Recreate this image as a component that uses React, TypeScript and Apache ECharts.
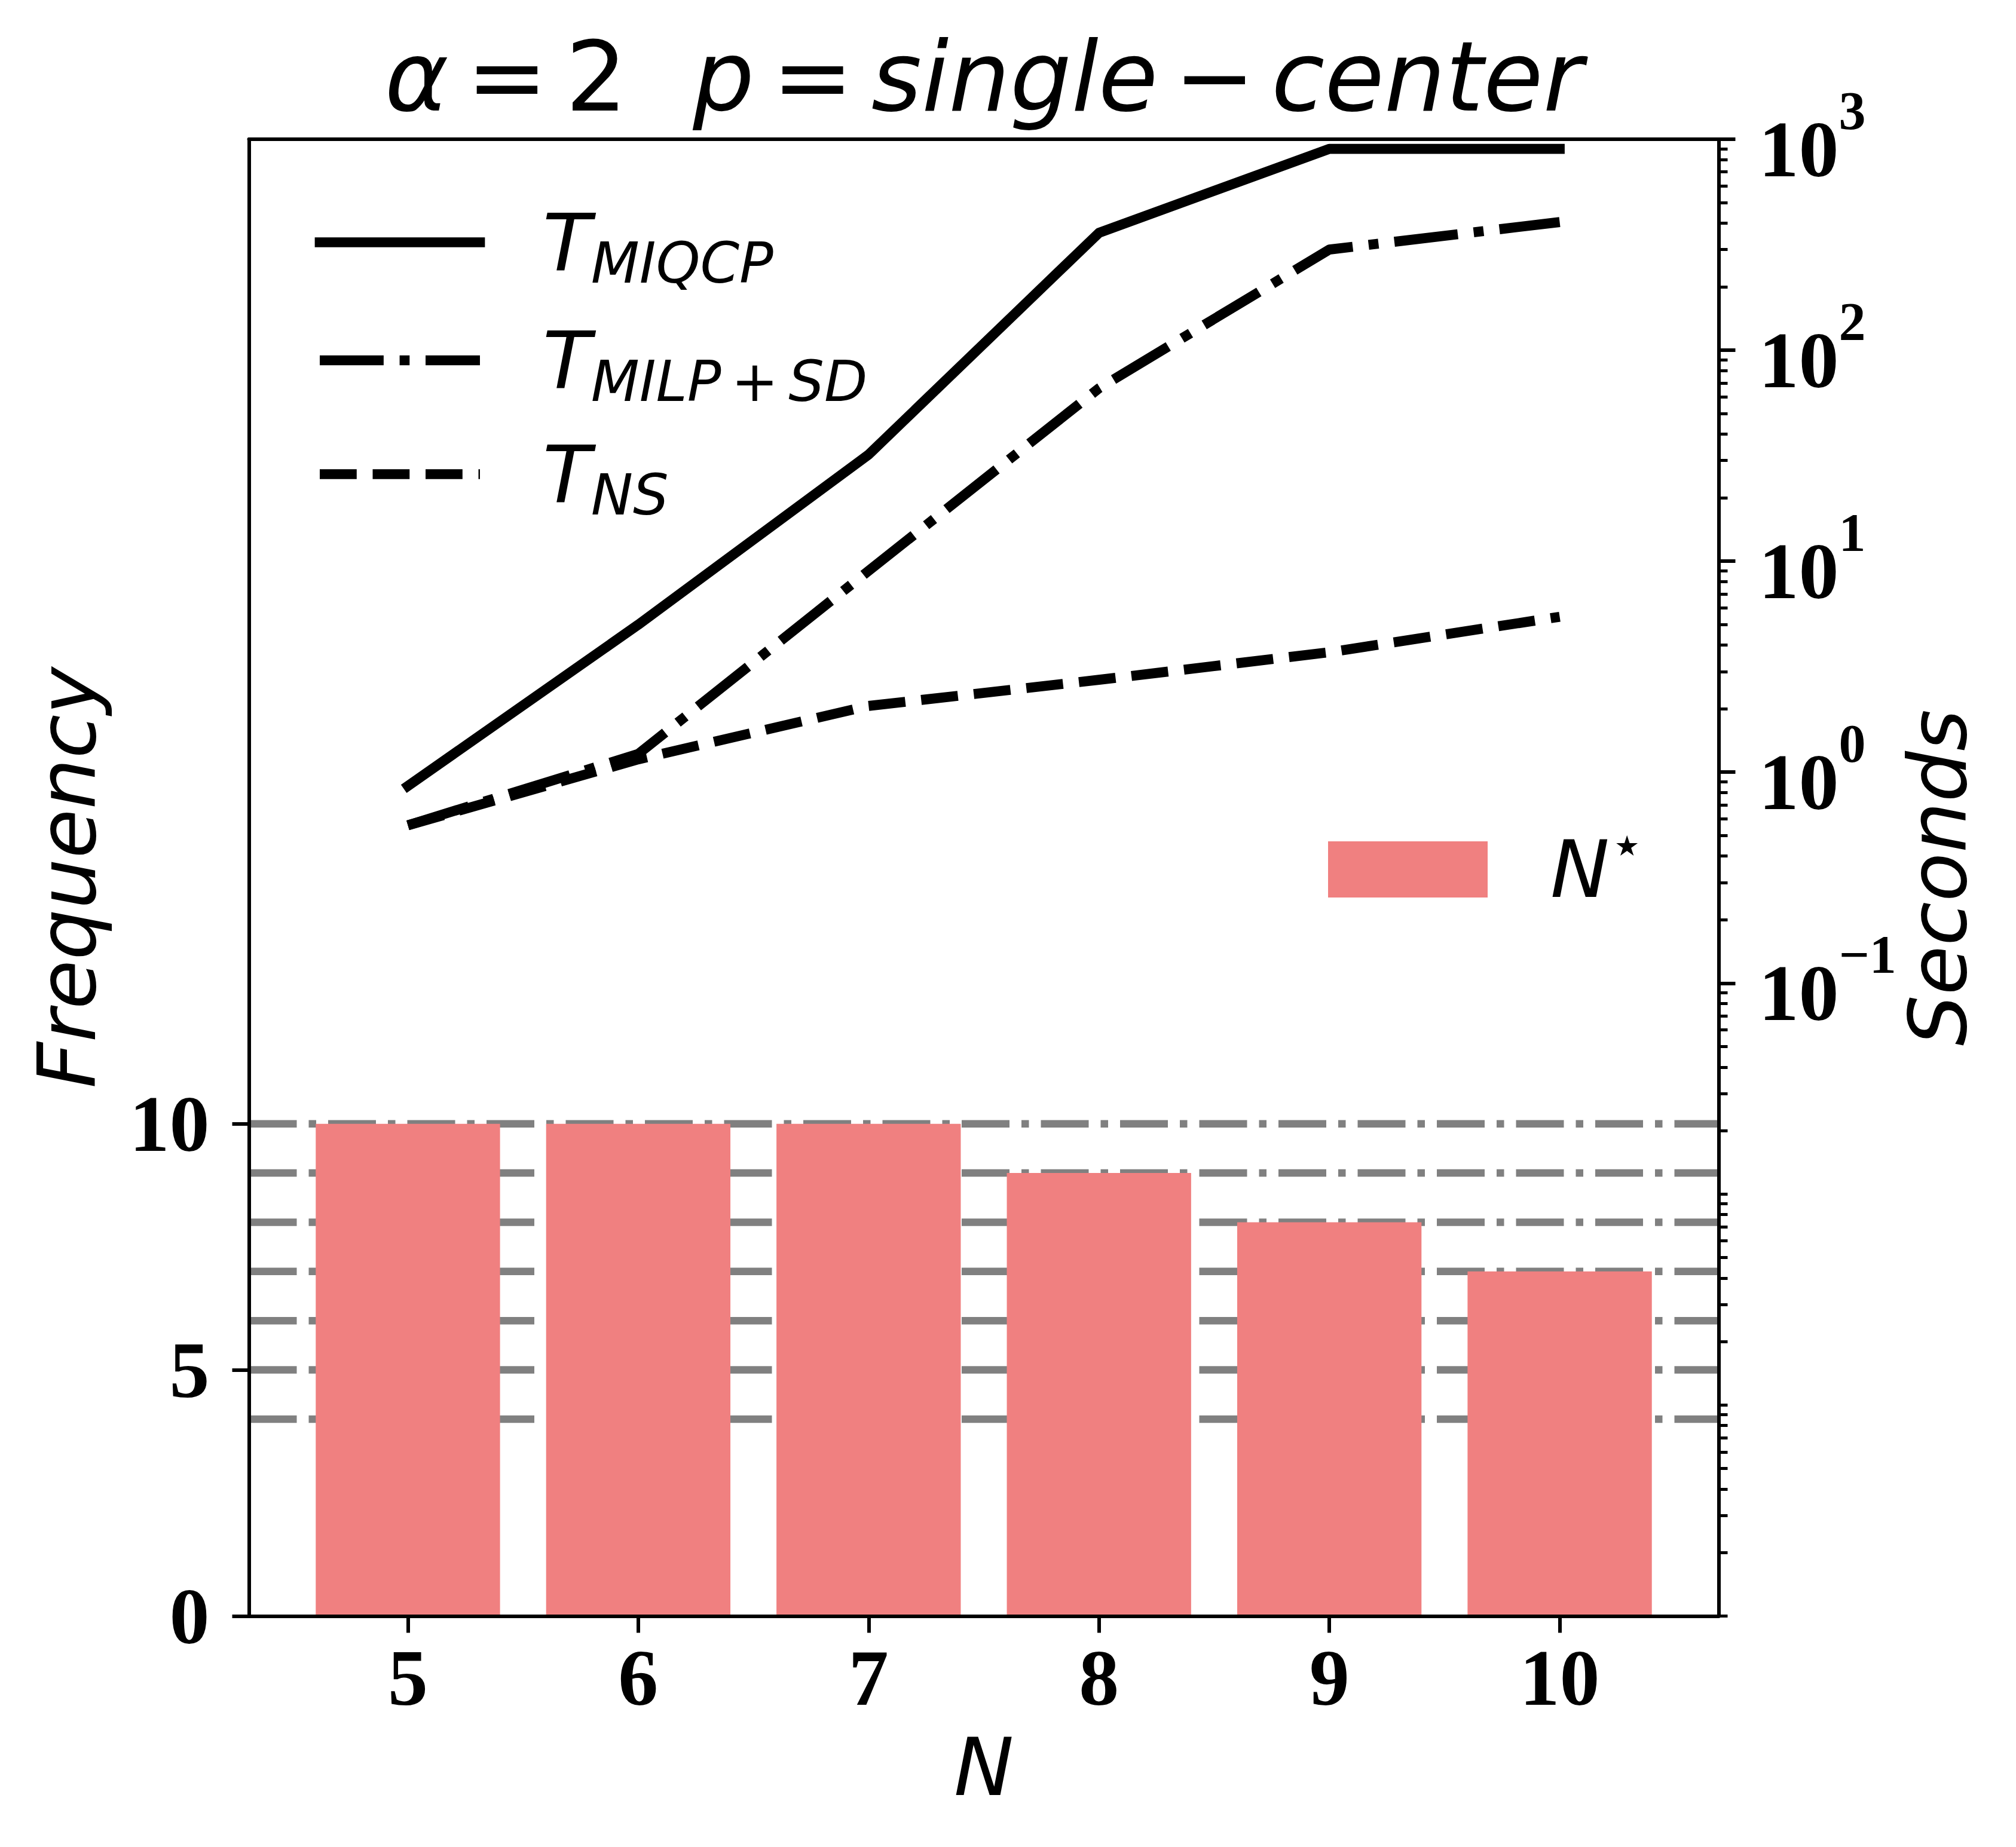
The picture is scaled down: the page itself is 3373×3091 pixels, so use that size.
import React, { useEffect, useRef } from "react";
import * as echarts from "echarts";

// ---------------- data ----------------
const N = [5, 6, 7, 8, 9, 10];
const nStarFrequency = [10, 10, 10, 9, 8, 7];
const tMIQCP = [0.86, 5.0, 32, 360, 900, 900];
const tMILPSD = [0.56, 1.22, 9.0, 66, 300, 405];
const tNS = [0.56, 1.15, 2.06, 2.74, 3.7, 5.45];
const refLevels = [4, 5, 6, 7, 8, 9, 10];
const freqTickValues = [0, 5, 10];
const freqRange = [0, 30];
const secondsRange = [1e-4, 1e3];
const secondsMajorExponents = [-1, 0, 1, 2, 3];
const minorMantissas = [1, 2, 3, 4, 5, 6, 7, 8, 9];

const NAME_MIQCP = "T_MIQCP";
const NAME_MILP = "T_MILP+SD";
const NAME_NS = "T_NS";
const NAME_BAR = "N*";

const SP = "\u00a0";
const legendLabels: Record<string, string> = {
  [NAME_MIQCP]: "{t|T}{s|MIQCP}",
  [NAME_MILP]: "{t|T}{s|MILP}{ss|" + SP + "}{o|+}{ss|" + SP + "}{s|SD}",
  [NAME_NS]: "{t|T}{s|NS}",
  [NAME_BAR]: "{t|N}{st|\u22c6}",
};

const titleText =
  "{i|\u03b1}{th|" + SP + "}{r|=}{th|" + SP + "}{r|2}{gap|" + SP + "}{i|p}{th|" + SP + "}{r|=}{th|" + SP +
  "}{i|single}{md|" + SP + "}{r|\u2212}{md|" + SP + "}{i|center}";

// ---------------- layout / style ----------------
const W = 3373;
const H = 3091;
const GL = 416.5;
const GT = 233;
const GW = 2459;
const GH = 2471.5;
const SANS = "'DejaVu Sans', 'Noto Sans', sans-serif";
const SERIF = "'Liberation Serif', 'Times New Roman', serif";
const BLACK_LW = 16.7;
const GRAY_LW = 12.5;
const DASHDOT_BLACK = [6.4, 1.6, 1, 1.6].map((v) => v * BLACK_LW);
const DASHED_BLACK = [3.7, 1.6].map((v) => v * BLACK_LW);
const DASHDOT_GRAY = [6.4, 1.6, 1, 1.6].map((v) => v * GRAY_LW);

const xSpan = N[N.length - 1] - N[0] + 0.8;
const xMin = N[0] - 0.4 - 0.05 * xSpan;
const xMax = N[N.length - 1] + 0.4 + 0.05 * xSpan;

const logMin = Math.log10(secondsRange[0]);
const logMax = Math.log10(secondsRange[1]);
const minorExponents: number[] = [];
for (let e = logMin; e < logMax; e++) {
  for (const m of minorMantissas) {
    if (m === 1 && secondsMajorExponents.includes(e)) continue;
    minorExponents.push(e + Math.log10(m));
  }
}

const tickFont = {
  color: "#000",
  fontFamily: SERIF,
  fontWeight: "bold" as const,
  fontSize: 134,
  lineHeight: 134,
};
const nameFont = {
  color: "#000",
  fontFamily: SANS,
  fontStyle: "italic" as const,
  fontSize: 134,
  lineHeight: 134,
};
const axisLine = { show: true, onZero: false, lineStyle: { color: "#000", width: 6 } };

const legendRich = {
  t: { fontFamily: SANS, fontStyle: "italic", fontSize: 132, height: 132, padding: [0, 0, 0, 100], color: "#000" },
  s: { fontFamily: SANS, fontStyle: "italic", fontSize: 94, height: 62, verticalAlign: "bottom", color: "#000" },
  o: { fontFamily: SANS, fontSize: 94, height: 62, verticalAlign: "bottom", color: "#000" },
  ss: { fontFamily: SANS, fontSize: 94, height: 62, width: 17, verticalAlign: "bottom", color: "#000" },
  st: { fontFamily: SANS, fontSize: 94, height: 48, verticalAlign: "top", color: "#000" },
};

function lineLegend(name: string, top: number, type: any, cap: string) {
  return {
    data: [name],
    left: 535 - BLACK_LW / 2,
    top,
    padding: 0,
    itemGap: 0,
    itemWidth: 268,
    itemHeight: 12,
    selectedMode: false,
    formatter: (n: string) => legendLabels[n],
    textStyle: { color: "#000", fontFamily: SANS, fontSize: 132, rich: legendRich },
    itemStyle: { color: "#000", opacity: 0 },
    lineStyle: { color: "#000", width: BLACK_LW, type, cap, opacity: 1 },
  };
}

export default function App() {
  const ref = useRef<HTMLDivElement>(null);
  useEffect(() => {
    document.body.style.margin = "0";
    if (!ref.current) return;
    const chart = echarts.init(ref.current, null, { renderer: "svg" });

    const refSeries = refLevels.map((lv) => ({
      type: "line",
      name: "ref" + lv,
      xAxisIndex: 0,
      yAxisIndex: 0,
      data: [
        [xMin, lv],
        [xMax, lv],
      ],
      symbol: "none",
      silent: true,
      z: 1,
      itemStyle: { color: "#808080" },
      lineStyle: { color: "#808080", width: GRAY_LW, type: DASHDOT_GRAY, cap: "butt" },
    }));

    const titleToken = (italic: boolean, width?: number) => ({
      fontFamily: SANS,
      fontStyle: italic ? "italic" : "normal",
      fontSize: 162,
      height: 162,
      fill: "#000",
      ...(width != null ? { width } : {}),
    });

    const option: any = {
      animation: false,
      backgroundColor: "#ffffff",
      grid: { left: GL, top: GT, width: GW, height: GH, containLabel: false, outerBoundsMode: "none" },
      title: { show: false },
      graphic: [
        {
          type: "text",
          x: GL + GW / 2,
          y: 128.5,
          z: 100,
          style: {
            text: titleText,
            align: "center",
            verticalAlign: "middle",
            textAlign: "center",
            textVerticalAlign: "middle",
            fontFamily: SANS,
            fontSize: 162,
            fill: "#000",
            rich: {
              i: titleToken(true),
              r: titleToken(false),
              th: titleToken(false, 30),
              md: titleToken(false, 27),
              gap: titleToken(false, 110),
            },
          },
        },
      ],
      legend: [
        lineLegend(NAME_MIQCP, 405.5 - 66, "solid", "square"),
        lineLegend(NAME_MILP, 603 - 66, DASHDOT_BLACK, "butt"),
        lineLegend(NAME_NS, 793.5 - 66, DASHED_BLACK, "butt"),
        {
          data: [NAME_BAR],
          left: 2222,
          top: 1366,
          padding: 0,
          itemGap: 0,
          itemWidth: 267,
          itemHeight: 94,
          icon: "rect",
          selectedMode: false,
          formatter: (n: string) => legendLabels[n],
          textStyle: { color: "#000", fontFamily: SANS, fontSize: 132, rich: legendRich },
        },
      ],
      xAxis: [
        {
          type: "value",
          position: "bottom",
          min: xMin,
          max: xMax,
          z: 10,
          axisLine,
          axisTick: { show: true, customValues: N, length: 28, lineStyle: { color: "#000", width: 6 } },
          axisLabel: { show: true, customValues: N, margin: 36, ...tickFont },
          splitLine: { show: false },
          name: "N",
          nameLocation: "middle",
          nameGap: 186,
          nameMoveOverlap: false,
          nameTextStyle: nameFont,
        },
        {
          type: "value",
          position: "top",
          min: xMin,
          max: xMax,
          z: 10,
          axisLine,
          axisTick: { show: false },
          axisLabel: { show: false },
          splitLine: { show: false },
        },
      ],
      yAxis: [
        {
          type: "value",
          position: "left",
          min: freqRange[0],
          max: freqRange[1],
          z: 10,
          axisLine,
          axisTick: { show: true, customValues: freqTickValues, length: 28, lineStyle: { color: "#000", width: 6 } },
          axisLabel: { show: true, customValues: freqTickValues, margin: 66, ...tickFont },
          splitLine: { show: false },
          name: "Frequency",
          nameLocation: "middle",
          nameGap: 237,
          nameMoveOverlap: false,
          nameTextStyle: nameFont,
        },
        {
          type: "log",
          logBase: 10,
          min: secondsRange[0],
          max: secondsRange[1],
          show: false,
          splitLine: { show: false },
        },
        {
          type: "value",
          position: "right",
          min: logMin,
          max: logMax,
          z: 10,
          axisLine,
          axisTick: {
            show: true,
            customValues: secondsMajorExponents,
            length: 28,
            lineStyle: { color: "#000", width: 6 },
          },
          axisLabel: {
            show: true,
            customValues: secondsMajorExponents,
            margin: 67,
            formatter: (v: number) => "{b|10}{e|" + (v < 0 ? "\u2212" + -v : String(v)) + "}",
            rich: {
              b: { fontFamily: SERIF, fontWeight: "bold", fontSize: 134, height: 134, padding: [33, 0, 0, 0], color: "#000" },
              e: { fontFamily: SERIF, fontWeight: "bold", fontSize: 90, height: 71, verticalAlign: "top", color: "#000" },
            },
          },
          splitLine: { show: false },
          name: "Seconds",
          nameLocation: "middle",
          nameGap: 300,
          nameMoveOverlap: false,
          nameTextStyle: nameFont,
        },
        {
          type: "value",
          position: "right",
          min: logMin,
          max: logMax,
          z: 10,
          axisLine: { show: false, onZero: false },
          axisTick: { show: true, customValues: minorExponents, length: 15, lineStyle: { color: "#000", width: 5 } },
          axisLabel: { show: false },
          splitLine: { show: false },
        },
      ],
      series: [
        ...refSeries,
        {
          type: "bar",
          name: NAME_BAR,
          xAxisIndex: 0,
          yAxisIndex: 0,
          data: N.map((n, i) => [n, nStarFrequency[i]]),
          barWidth: "80%",
          itemStyle: { color: "#F08080", borderWidth: 0 },
          z: 3,
        },
        {
          type: "line",
          name: NAME_MIQCP,
          xAxisIndex: 0,
          yAxisIndex: 1,
          data: N.map((n, i) => [n, tMIQCP[i]]),
          symbol: "none",
          z: 5,
          itemStyle: { color: "#000" },
          lineStyle: { color: "#000", width: BLACK_LW, type: "solid", cap: "square", join: "round" },
        },
        {
          type: "line",
          name: NAME_MILP,
          xAxisIndex: 0,
          yAxisIndex: 1,
          data: N.map((n, i) => [n, tMILPSD[i]]),
          symbol: "none",
          z: 5,
          itemStyle: { color: "#000" },
          lineStyle: { color: "#000", width: BLACK_LW, type: DASHDOT_BLACK, cap: "butt", join: "round" },
        },
        {
          type: "line",
          name: NAME_NS,
          xAxisIndex: 0,
          yAxisIndex: 1,
          data: N.map((n, i) => [n, tNS[i]]),
          symbol: "none",
          z: 5,
          itemStyle: { color: "#000" },
          lineStyle: { color: "#000", width: BLACK_LW, type: DASHED_BLACK, cap: "butt", join: "round" },
        },
      ],
    };

    chart.setOption(option);
    return () => chart.dispose();
  }, []);

  return <div ref={ref} style={{ width: W, height: H, background: "#fff" }} />;
}
